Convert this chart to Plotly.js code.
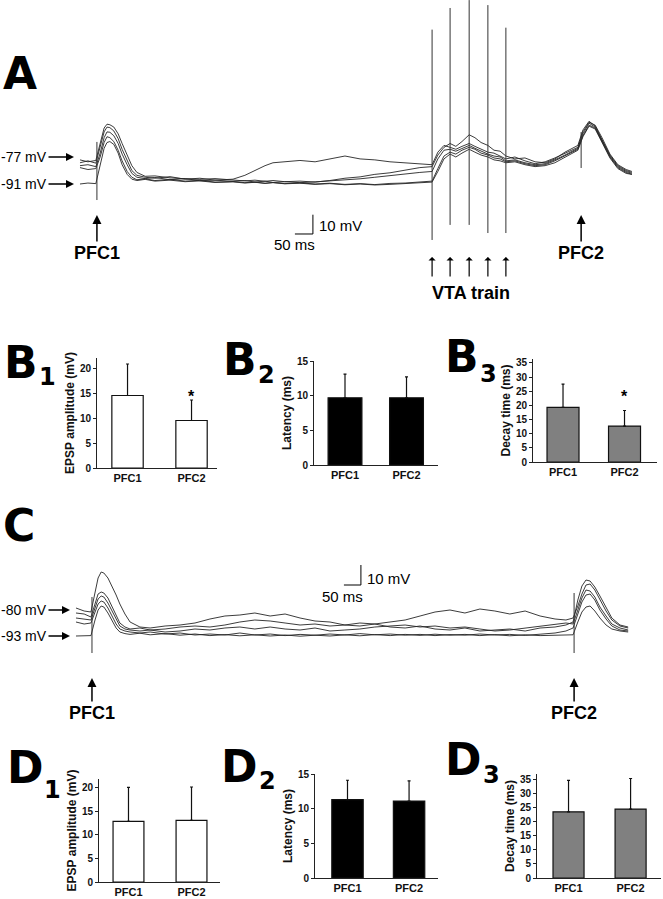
<!DOCTYPE html>
<html>
<head>
<meta charset="utf-8">
<script src="https://cdn.plot.ly/plotly-3.0.1.min.js"></script>
<style>
  html, body { margin: 0; padding: 0; background: #fff; }
  #fig { width: 663px; height: 899px; }
</style>
</head>
<body>
<div id="fig"></div>
<script>
// Figure: PFC EPSPs before / after a VTA train (A, B) and without it (C, D)

const W = 663, H = 899;
const FONT = 'Liberation Sans, Arial, sans-serif';
const LETTER_FONT = 'DejaVu Sans, Liberation Sans, sans-serif';
const px = p => p / W;        // pixel -> paper x
const py = p => 1 - p / H;    // pixel -> paper y

// ---- Panel A sweeps: time (ms), membrane potential (mV)
const tA = [0, 22, 44, 56, 67, 75, 83, 94, 106, 117, 131, 144, 158, 181, 208, 250, 292, 333, 375, 425,
  458, 486, 514, 536, 569, 611, 653, 694, 736, 778, 819, 861, 903, 944, 978, 994, 1011, 1028, 1044, 1061,
  1081, 1097, 1114, 1133, 1150, 1167, 1183, 1208, 1236, 1264, 1292, 1319, 1347, 1367, 1383, 1397, 1414,
  1431, 1450, 1472, 1494, 1517, 1533];
const vA1 = [-78.5, -79.5, -78.8, -70, -62, -60, -60.3, -61.5, -65, -70, -76, -81.5, -85, -87, -86.8, -87.8,
  -88.3, -88.6, -88.2, -89, -89.4, -89, -89.6, -89.2, -89.8, -89.5, -90, -89.2, -88, -87.3, -86, -85.2, -84,
  -82.5, -82, -76, -72, -70, -71.5, -69, -65.5, -67, -69.5, -71, -73.5, -74, -76.5, -78, -77.5, -79.5, -80,
  -78, -74.5, -72.5, -71, -63, -58.5, -61, -68, -76, -81.5, -84, -85];
const vA2 = [-80, -79, -80.2, -72, -64, -61.5, -61.8, -63.5, -67.5, -73, -79, -84, -86.5, -87.5, -88, -87.2,
  -88.5, -88, -89, -88.5, -86.5, -84, -81.5, -80, -79.5, -78.8, -79.5, -78, -76.5, -78, -78.5, -79.5, -80,
  -80.5, -81, -74.5, -71, -72, -73, -71.5, -70, -71.5, -73, -74.5, -75, -76.5, -78, -77, -79, -80.5, -79.5,
  -77.5, -75, -73.5, -72, -64, -59, -60.5, -67, -75.5, -81, -83.5, -84.5];
const vA3 = [-81.5, -81, -82, -75, -67, -64, -64.2, -66, -70, -75.5, -81, -85.5, -87.5, -88.2, -87.6, -88.8,
  -88.2, -89.3, -89, -89.6, -89.2, -90, -89.5, -90.2, -89.8, -90.3, -89.9, -89.5, -89, -88.3, -87.5, -86.6,
  -85.8, -85, -84.5, -78, -73.5, -73, -74, -72.5, -71, -72.5, -74, -75.5, -76.5, -77, -79, -78.5, -80, -81,
  -80.5, -78.5, -76, -74, -72.5, -65, -59.5, -61.5, -68.5, -76.5, -82, -84.5, -85.5];
const vA4 = [-82.5, -83.5, -83, -77, -69.5, -66.5, -67, -69, -73.5, -79, -84.5, -87.5, -88.8, -88.3, -89.2,
  -88.6, -89.5, -89.1, -90, -89.7, -90.3, -90, -90.6, -90.2, -90.8, -90.4, -91, -90.6, -91.2, -90.8, -91.3,
  -90.7, -90.5, -90, -89.5, -83, -76.5, -74.5, -75.5, -73.5, -72, -73, -75, -76, -77.5, -78, -79.5, -79,
  -80.5, -81.5, -81, -79, -76.5, -74.5, -73, -66, -60.5, -62, -69, -77, -82.5, -85, -86];
const vA5 = [-91, -90.5, -90.8, -82, -72.5, -69.5, -69, -70.5, -75, -81, -86, -88.5, -89.2, -88.6, -89.5, -89,
  -89.8, -89.4, -90.2, -89.9, -90.5, -90.1, -90.7, -90.3, -90.9, -90.6, -91.2, -90.8, -91.4, -91, -91.5,
  -91.2, -90.8, -90.4, -90, -84.5, -78, -75.5, -77, -75, -73, -74.5, -76, -77, -78.5, -79, -80, -79.5, -81,
  -82, -81.5, -80, -77, -75, -73.5, -66.5, -61, -62.5, -69.5, -77.5, -83, -85.5, -86];

// stimulus artifacts in A
const pfcA = [47, 1392];
const pfcATop = [-69.2, -64.1];
const pfcABot = [-99.3, -82.7];
const vtaA = [978, 1028, 1081, 1133, 1183];
const vtaATop = [-11, 0.2, 4.3, 1.7, -10];
const vtaABot = [-120, -112.2, -112.2, -116.4, -116.4];

// ---- Panel C sweeps
const tC = [0, 24, 44, 56, 65, 74, 82, 94, 106, 118, 129, 144, 159, 188, 218, 262, 306, 350, 394, 438, 482,
  526, 571, 615, 659, 703, 747, 791, 835, 879, 924, 968, 1012, 1056, 1100, 1144, 1188, 1232, 1276, 1321,
  1365, 1409, 1441, 1462, 1476, 1488, 1500, 1512, 1526, 1541, 1559, 1576, 1600, 1624];
const vC1 = [-79, -80.5, -81, -72, -64, -61, -61.5, -64, -68, -72.5, -77, -82, -86, -88.5, -89, -88, -87.5,
  -86.5, -84.5, -83, -82.5, -81.5, -83, -82, -84, -85.5, -86, -87.5, -88, -87, -88.5, -89, -88, -89.5, -90,
  -89, -90.5, -90, -89.5, -90.5, -89, -88.5, -87.5, -86, -75, -68, -65, -65.5, -68.5, -73, -79, -84, -87.5,
  -88.5];
const vC2 = [-81.5, -82, -83.5, -77, -72, -71, -71.5, -74, -78.5, -83, -86.5, -88.5, -89.5, -89, -90, -89.5,
  -88.5, -88, -88.5, -87.5, -86, -85, -85.5, -86.5, -87.5, -87, -88, -87.5, -86.5, -87, -86, -85, -83, -81,
  -80, -81.5, -79.5, -80.5, -82, -80.5, -83, -84.5, -85, -84, -78, -72, -67.5, -67, -70, -75, -80.5, -85,
  -88, -89];
const vC3 = [-84, -84.5, -85, -79, -74.5, -73, -73.5, -76.5, -80.5, -85, -88, -89.5, -90, -90.5, -90, -91,
  -90.5, -89.5, -90, -89, -88.5, -89.5, -88.5, -89.5, -90, -89, -90.5, -90, -89.5, -88.5, -88, -87.5, -88.5,
  -88, -89, -88.5, -89.5, -90.5, -90, -89, -88, -87, -86.5, -87, -80, -74, -70, -70.5, -73.5, -78.5, -83,
  -87, -89, -90];
const vC4 = [-86, -87, -86.5, -81, -77, -75.5, -76, -79, -83, -87, -89.5, -90.5, -91, -91.5, -91, -92, -91.5,
  -92.5, -92, -92.5, -91.5, -92.5, -92, -92.8, -92.2, -92.6, -92, -92.5, -91.8, -92.4, -92, -92.6, -92.2,
  -92.8, -92.3, -92.6, -92, -92.5, -92.2, -92.7, -92.1, -91.5, -90.5, -89, -82, -76, -72.5, -72, -75, -80,
  -84.5, -88, -90, -90.5];
const vC5 = [-93, -93, -92.8, -85, -80, -78, -78.5, -81.5, -85.5, -89, -91, -91.8, -92.2, -91.6, -92.4, -91.8,
  -92.6, -92, -92.8, -92.3, -92.9, -92.4, -93, -92.5, -93.1, -92.6, -93, -92.4, -92.9, -92.3, -92.8, -92.2,
  -92.7, -92.1, -92.6, -92.2, -92.8, -92.3, -92.9, -92.4, -92.8, -92.5, -92.6, -92.4, -86, -81, -78.5, -78,
  -80.5, -84, -87.5, -89.5, -90.5, -91];
const pfcC = [47, 1465];
const pfcCTop = [-73.5, -71.5];
const pfcCBot = [-101.5, -101.5];

// ---- Bar panels (mean, + SEM upper whisker)
const cats = ['PFC1', 'PFC2'];
const b1Mean = [14.5, 9.5], b1Err = [6.3, 4.1];
const b2Mean = [9.7, 9.7], b2Err = [3.4, 3.0];
const b3Mean = [19.3, 12.7], b3Err = [8.2, 5.5];
const d1Mean = [12.9, 13.1], d1Err = [7.2, 7.1];
const d2Mean = [11.3, 11.1], d2Err = [2.8, 2.9];
const d3Mean = [23.6, 24.6], d3Err = [11.2, 10.9];

// ---------------------------------------------------------------
const traces = [];
const layout = {
  width: W, height: H,
  margin: { l: 0, r: 0, t: 0, b: 0 },
  paper_bgcolor: '#fff', plot_bgcolor: 'rgba(0,0,0,0)',
  font: { family: FONT, color: '#000' },
  showlegend: false,
  annotations: []
};

function sweep(t, v, xa, ya) {
  return { type: 'scatter', mode: 'lines', x: t, y: v, xaxis: xa, yaxis: ya,
    line: { color: '#262626', width: 0.9 }, hoverinfo: 'skip' };
}

function ticks(ts, tops, bots, xa, ya) {
  const x = [], y = [];
  ts.forEach((t, i) => { x.push(t, t, null); y.push(tops[i], bots[i], null); });
  return { type: 'scatter', mode: 'lines', x, y, xaxis: xa, yaxis: ya,
    line: { color: '#333', width: 1 }, hoverinfo: 'skip' };
}

function scaleBar(t0, v0, xa, ya) {
  // 50 ms horizontal, 10 mV vertical
  return { type: 'scatter', mode: 'lines', x: [t0 - 50, t0, t0], y: [v0, v0, v0 + 10],
    xaxis: xa, yaxis: ya, line: { color: '#000', width: 1 }, hoverinfo: 'skip' };
}

// A
[vA1, vA2, vA3, vA4, vA5].forEach(v => traces.push(sweep(tA, v, 'x', 'y')));
traces.push(ticks(pfcA, pfcATop, pfcABot, 'x', 'y'));
traces.push(ticks(vtaA, vtaATop, vtaABot, 'x', 'y'));
traces.push(scaleBar(647, -116.9, 'x', 'y'));
layout.xaxis = { domain: [0, 1], range: [-222.2, 1619.4], visible: false, fixedrange: true };
layout.yaxis = { domain: [py(300), 1], range: [-151.1, 4.34], visible: false, fixedrange: true };

// C
[vC1, vC2, vC3, vC4, vC5].forEach(v => traces.push(sweep(tC, v, 'x2', 'y2')));
traces.push(ticks(pfcC, pfcCTop, pfcCBot, 'x2', 'y2'));
traces.push(scaleBar(838, -67.5, 'x2', 'y2'));
layout.xaxis2 = { domain: [0, 1], range: [-223.5, 1726.5], visible: false, anchor: 'y2', fixedrange: true };
layout.yaxis2 = { domain: [py(720), py(480)], range: [-135, -15], visible: false, anchor: 'x2', fixedrange: true };

// bar charts
function barPanel(n, mean, err, fill, bw, box, xr, yr, title) {
  const xa = 'x' + n, ya = 'y' + n;
  traces.push({
    type: 'bar', x: cats, y: mean, xaxis: xa, yaxis: ya, width: bw,
    marker: { color: fill, line: { color: '#111', width: 1.2 } },
    error_y: { type: 'data', array: err, arrayminus: [0, 0], symmetric: false,
      color: '#111', thickness: 1.2, width: 1.5 },
    hoverinfo: 'skip'
  });
  layout['xaxis' + n] = {
    domain: [px(box[0]), px(box[1])], anchor: ya, type: 'category', range: xr,
    showline: true, linecolor: '#222', linewidth: 1, ticks: '', showgrid: false, zeroline: false,
    tickfont: { family: FONT, size: 11, weight: 'bold', color: '#111' }, fixedrange: true
  };
  layout['yaxis' + n] = {
    domain: [py(box[3]), py(box[2])], anchor: xa, range: yr, dtick: 5,
    showline: true, linecolor: '#222', linewidth: 1, ticks: 'outside', ticklen: 3,
    tickcolor: '#222', showgrid: false, zeroline: false,
    tickfont: { family: FONT, size: 10, weight: 'bold', color: '#111' },
    title: { text: title, standoff: 2, font: { family: FONT, size: 12, weight: 'bold', color: '#111' } },
    fixedrange: true
  };
}

barPanel(3, b1Mean, b1Err, '#ffffff', 0.49, [97, 217, 358, 468], [-0.477, 1.398], [0, 22], 'EPSP amplitude (mV)');
barPanel(4, b2Mean, b2Err, '#000000', 0.55, [314, 438, 361, 465], [-0.504, 1.512], [0, 15], 'Latency (ms)');
barPanel(5, b3Mean, b3Err, '#808080', 0.52, [533, 657, 359, 462], [-0.488, 1.528], [0, 36.4], 'Decay time (ms)');
barPanel(6, d1Mean, d1Err, '#ffffff', 0.49, [99, 220, 779, 882], [-0.468, 1.452], [0, 21.9], 'EPSP amplitude (mV)');
barPanel(7, d2Mean, d2Err, '#000000', 0.51, [315, 438, 774, 878], [-0.528, 1.47], [0, 15], 'Latency (ms)');
barPanel(8, d3Mean, d3Err, '#808080', 0.5, [537, 661, 774, 878], [-0.508, 1.49], [0, 37.1], 'Decay time (ms)');

// ---- annotations
const ann = layout.annotations;

// panel letter with optional subscript placed just to its right
function letter(txt, left, cy, sub, subDy) {
  ann.push({ text: '<b>' + txt + '</b>', xref: 'paper', yref: 'paper', x: px(left), y: py(cy),
    xanchor: 'left', yanchor: 'middle', showarrow: false,
    font: { family: LETTER_FONT, size: 44, color: '#000' } });
  if (sub) {
    const adv = txt === 'D' ? 36.5 : 33.5;
    ann.push({ text: '<b>' + sub + '</b>', xref: 'paper', yref: 'paper', x: px(left + adv + 1), y: py(cy + subDy),
      xanchor: 'left', yanchor: 'middle', showarrow: false,
      font: { family: LETTER_FONT, size: 24, color: '#000' } });
  }
}
letter('A', 1, 73);
letter('B', 2, 362, '1', 15);
letter('B', 221, 359, '2', 16);
letter('B', 443, 356, '3', 18);
letter('C', 1, 525);
letter('D', 5, 767, '1', 23);
letter('D', 219, 766, '2', 15);
letter('D', 443, 759, '3', 16);

function stimArrow(txt, xref, x, headY, ay) {
  ann.push({ text: txt, xref: xref, yref: 'paper', x: x, y: py(headY), ax: 0, ay: ay,
    showarrow: true, arrowhead: 2, arrowsize: 1.2, arrowwidth: 1.5, arrowcolor: '#000',
    font: { family: FONT, size: 18, weight: 'bold', color: '#000' } });
}
stimArrow('PFC1', 'x', pfcA[0], 215, 38);
stimArrow('PFC2', 'x', pfcA[1], 215, 38);
stimArrow('PFC1', 'x2', pfcC[0], 678, 35);
stimArrow('PFC2', 'x2', pfcC[1], 678, 35);

vtaA.forEach(t => ann.push({ text: '', xref: 'x', yref: 'paper', x: t, y: py(257), ax: 0, ay: 21,
  showarrow: true, arrowhead: 1, arrowsize: 1, arrowwidth: 1.2, arrowcolor: '#000' }));
ann.push({ text: '<b>VTA train</b>', xref: 'paper', yref: 'paper', x: px(471), y: py(293),
  xanchor: 'center', yanchor: 'middle', showarrow: false, font: { family: FONT, size: 18, color: '#000' } });

function mvLabel(txt, headX, headY, ax) {
  ann.push({ text: txt, xref: 'paper', yref: 'paper', x: px(headX), y: py(headY), ax: ax, ay: 0,
    showarrow: true, arrowhead: 2, arrowsize: 1, arrowwidth: 1.6, arrowcolor: '#000',
    font: { family: FONT, size: 14, color: '#000' } });
}
mvLabel('-77 mV', 74, 157, -50);
mvLabel('-91 mV', 74, 184, -50);
mvLabel('-80 mV', 70, 610, -46);
mvLabel('-93 mV', 70, 636, -46);

function plain(txt, x, y, anchor) {
  ann.push({ text: txt, xref: 'paper', yref: 'paper', x: px(x), y: py(y), xanchor: anchor,
    yanchor: 'middle', showarrow: false, font: { family: FONT, size: 15, color: '#000' } });
}
plain('10 mV', 317, 226, 'left');
plain('50 ms', 294, 244, 'center');
plain('10 mV', 365, 578, 'left');
plain('50 ms', 342, 596, 'center');

// significance marks
ann.push({ text: '<b>*</b>', xref: 'x3', yref: 'y3', x: 'PFC2', y: 14.2, showarrow: false,
  font: { family: FONT, size: 16, color: '#000' } });
ann.push({ text: '<b>*</b>', xref: 'x5', yref: 'y5', x: 'PFC2', y: 23.3, showarrow: false,
  font: { family: FONT, size: 16, color: '#000' } });

Plotly.newPlot('fig', traces, layout, { displayModeBar: false, staticPlot: true });
</script>
</body>
</html>
